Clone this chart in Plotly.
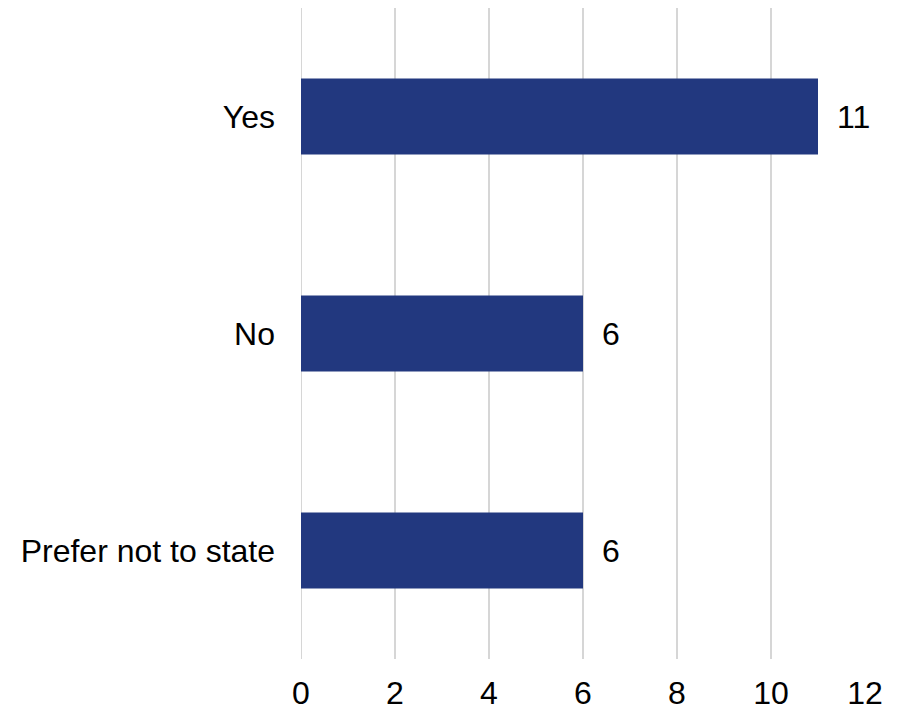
import plotly.graph_objects as go

categories = ["Yes", "No", "Prefer not to state"]
values = [11, 6, 6]
tick_vals = [0, 2, 4, 6, 8, 10, 12]

FONT = "Liberation Sans, Arial"

fig = go.Figure()
fig.add_trace(go.Bar(
    y=categories, x=values, orientation="h",
    marker=dict(color="#22387F", line=dict(width=0)),
    width=0.35,
))
for c, v in zip(categories, values):
    fig.add_annotation(x=v, y=c, text=str(v), showarrow=False,
                       xanchor="left", xshift=17,
                       font=dict(family=FONT, size=32, color="#000000"))

fig.update_layout(
    width=891, height=705,
    margin=dict(l=293, r=34, t=0, b=54),
    plot_bgcolor="white", paper_bgcolor="white",
    showlegend=False,
    font=dict(family=FONT, size=32, color="#000000"),
    xaxis=dict(range=[0, 12], tickvals=tick_vals, showgrid=True,
               gridcolor="#D6D6D6", gridwidth=2, zeroline=False,
               showline=False, ticks="", ticklabelstandoff=12),
    yaxis=dict(categoryorder="array", categoryarray=categories[::-1],
               showgrid=False, zeroline=False, showline=False, ticks="",
               ticklabelstandoff=25),
)
fig.add_shape(type="line", xref="x", yref="paper", x0=0, x1=0, y0=0, y1=1,
              line=dict(color="#D6D6D6", width=2), layer="below")
fig.write_html("out.html")
